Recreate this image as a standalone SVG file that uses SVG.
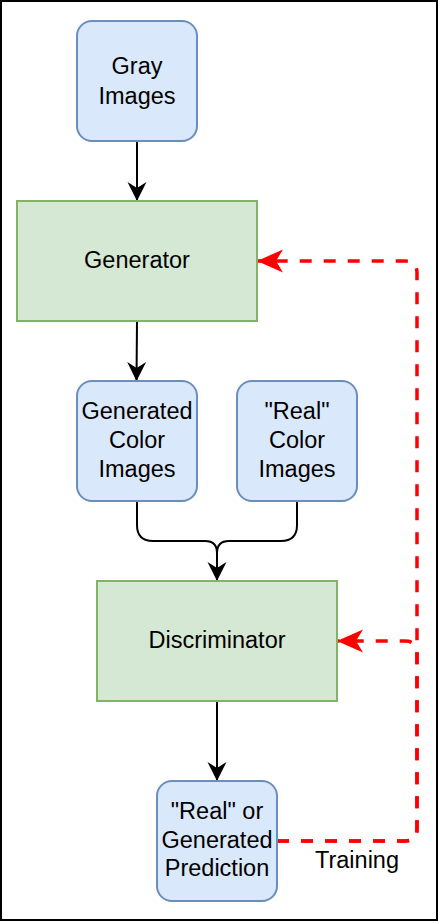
<svg xmlns="http://www.w3.org/2000/svg" width="438" height="922" viewBox="0 0 438 922">
<style>
.blue{fill:#dae8fc;stroke:#6c8ebf;stroke-width:2}
.green{fill:#d5e8d4;stroke:#82b366;stroke-width:2}
text{font-family:"Liberation Sans",Arial,Helvetica,sans-serif;font-size:23.5px;fill:#000;text-anchor:middle}
.edge{fill:none;stroke:#000;stroke-width:2}
.red{fill:none;stroke:#ff0000;stroke-width:3.5;stroke-dasharray:12 12}
</style>
<defs>
<marker id="ab" markerUnits="userSpaceOnUse" markerWidth="20" markerHeight="20" refX="19" refY="9.5" orient="auto" viewBox="0 0 20 19">
<path d="M0,0 L19,9.5 L0,19 L6,9.5 Z" fill="#000"/>
</marker>
<marker id="ar" markerUnits="userSpaceOnUse" markerWidth="28" markerHeight="24" refX="26" refY="11.5" orient="auto" viewBox="0 0 28 23">
<path d="M0,0 L26,11.5 L0,23 L7,11.5 Z" fill="#ff0000"/>
</marker>
</defs>
<rect x="1" y="1" width="436" height="919" fill="#fff" stroke="#000" stroke-width="2"/>
<g id="connectors">
<path class="edge" d="M137,141 V201" marker-end="url(#ab)"/>
<path class="edge" d="M137,321 L136.5,381" marker-end="url(#ab)"/>
<path class="edge" d="M137,501 V525 Q137,541 153,541 H205 Q217,541 217,553 V581" marker-end="url(#ab)"/>
<path class="edge" d="M297,501 V525 Q297,541 281,541 H229 Q217,541 217,553 V581"/>
<path class="edge" d="M217,701 V781" marker-end="url(#ab)"/>
<path class="red" d="M277,841 H405 Q417,841 417,829 V273 Q417,261 405,261 H257" marker-end="url(#ar)"/>
<path class="red" d="M277,841 H405 Q417,841 417,829 V653 Q417,641 405,641 H337" marker-end="url(#ar)"/>
</g>
<g id="gray">
<rect class="blue" x="77" y="21" width="120" height="120" rx="15"/>
<text x="137" y="74">Gray</text>
<text x="137" y="104">Images</text>
</g>
<g id="generator">
<rect class="green" x="17" y="201" width="240" height="120"/>
<text x="137" y="268">Generator</text>
</g>
<g id="gencolor">
<rect class="blue" x="77" y="381" width="120" height="120" rx="15"/>
<text x="137" y="419">Generated</text>
<text x="137" y="448">Color</text>
<text x="137" y="477">Images</text>
</g>
<g id="realcolor">
<rect class="blue" x="237" y="381" width="120" height="120" rx="15"/>
<text x="297" y="419">"Real"</text>
<text x="297" y="448">Color</text>
<text x="297" y="477">Images</text>
</g>
<g id="discriminator">
<rect class="green" x="97" y="581" width="240" height="120"/>
<text x="217" y="648">Discriminator</text>
</g>
<g id="prediction">
<rect class="blue" x="157" y="781" width="120" height="120" rx="15"/>
<text x="217" y="819">"Real" or</text>
<text x="217" y="848">Generated</text>
<text x="217" y="876">Prediction</text>
</g>
<g id="training-label">
<text x="357" y="868">Training</text>
</g>
</svg>
